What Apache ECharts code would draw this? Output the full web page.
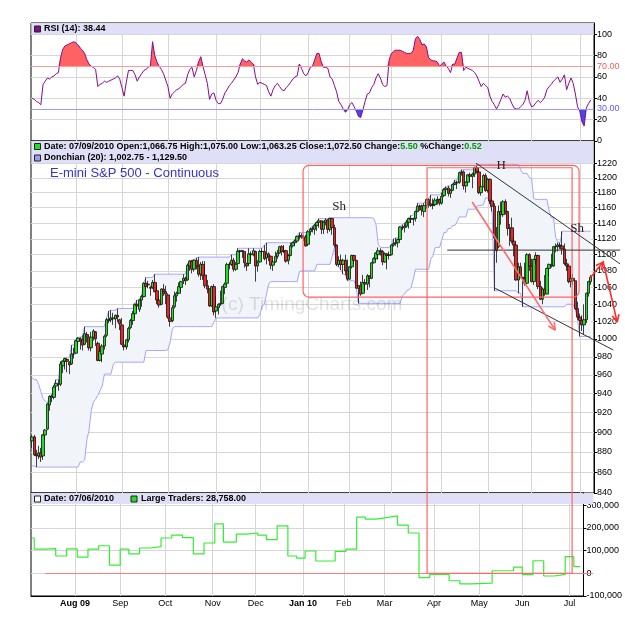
<!DOCTYPE html>
<html>
<head>
<meta charset="utf-8">
<script src="https://cdn.jsdelivr.net/npm/echarts@6/dist/echarts.min.js"></script>
<style>
  html, body { margin: 0; padding: 0; background: #fff; }
  #chart { width: 625px; height: 623px; }
</style>
</head>
<body>
<div id="chart"></div>
<script>
// exchange holidays inside the plotted window
const holidays = ['2009-09-07', '2009-11-26', '2009-12-25', '2010-01-01', '2010-01-18',
  '2010-02-15', '2010-04-02', '2010-05-31', '2010-07-05'];

const dates = [];
for (let t = Date.UTC(2009, 6, 6); t <= Date.UTC(2010, 6, 9); t += 86400000) {
  const d = new Date(t);
  const s = d.toISOString().slice(0, 10);
  if (d.getUTCDay() === 0 || d.getUTCDay() === 6 || holidays.includes(s)) continue;
  dates.push(s);
}
const categories = dates.concat(['']);

// open, high, low, close
const priceBars = [
  // Jul 2009
  [891,897,884,895],[895,897,876,877],[877,882,865,876],[876,886,873,879],[879,884,870,875],
  [876,898,872,897],[897,903,892,902],[903,930,902,929],[928,938,922,937],[937,939,931,936],
  [936,949,934,947],[948,955,938,951],[950,955,943,950],[950,975,948,972],[970,976,962,975],
  [975,979,966,978],[977,978,963,975],[974,975,961,971],[972,993,971,983],[983,990,978,983],
  // Aug
  [984,999,983,998],[997,1002,992,1001],[1000,1002,988,998],[999,1004,987,993],[994,1014,993,1006],
  [1005,1008,996,1003],[1002,1003,987,990],[990,1008,986,1002],[1002,1011,998,1009],[1008,1009,992,1000],
  [995,997,975,976],[976,990,975,986],[983,994,974,992],[992,1005,988,1003],[1004,1024,1002,1022],
  [1022,1032,1018,1021],[1022,1033,1019,1024],[1023,1030,1016,1024],[1023,1028,1012,1027],[1027,1035,1019,1025],
  [1022,1023,1010,1017],
  // Sep
  [1016,1024,993,994],[993,998,987,991],[991,1000,988,999],[999,1014,996,1012],[1013,1023,1011,1021],
  [1021,1032,1016,1029],[1029,1041,1024,1040],[1040,1045,1034,1038],[1034,1046,1031,1045],[1045,1051,1037,1049],
  [1049,1066,1048,1065],[1065,1072,1058,1061],[1063,1068,1059,1064],[1060,1062,1050,1059],[1060,1069,1058,1066],
  [1066,1076,1054,1055],[1056,1062,1040,1045],[1045,1050,1036,1039],[1040,1059,1039,1058],[1058,1064,1050,1055],
  [1055,1062,1040,1052],
  // Oct
  [1051,1053,1023,1025],[1024,1028,1014,1020],[1021,1039,1019,1036],[1037,1055,1035,1050],[1050,1055,1043,1053],
  [1053,1066,1052,1061],[1060,1068,1056,1067],[1068,1076,1064,1071],[1071,1073,1063,1068],[1069,1089,1068,1087],
  [1086,1093,1080,1092],[1092,1093,1077,1082],[1082,1094,1079,1093],[1093,1096,1082,1086],[1086,1097,1073,1076],
  [1076,1091,1069,1088],[1088,1092,1069,1074],[1075,1092,1059,1062],[1062,1069,1053,1058],[1058,1059,1037,1038],
  [1038,1062,1037,1061],[1061,1064,1027,1031],
  // Nov
  [1032,1049,1024,1037],[1036,1041,1028,1040],[1040,1056,1038,1041],[1041,1062,1040,1061],[1060,1066,1052,1064],
  [1065,1090,1064,1088],[1088,1091,1082,1088],[1088,1100,1086,1093],[1093,1096,1079,1082],[1082,1091,1080,1088],
  [1089,1108,1088,1104],[1104,1106,1096,1105],[1105,1106,1096,1104],[1104,1104,1084,1090],[1089,1090,1080,1086],
  [1089,1108,1088,1101],[1101,1104,1092,1100],[1100,1108,1098,1105],[1104,1105,1067,1086],[1086,1093,1079,1090],
  // Dec
  [1091,1106,1090,1104],[1104,1108,1099,1104],[1104,1112,1093,1095],[1096,1115,1088,1101],[1101,1103,1092,1098],
  [1098,1099,1082,1087],[1087,1093,1080,1091],[1091,1104,1090,1098],[1098,1106,1095,1102],[1102,1111,1101,1110],
  [1110,1112,1099,1104],[1104,1112,1102,1105],[1105,1106,1090,1092],[1093,1101,1088,1099],[1099,1115,1098,1111],
  [1111,1116,1109,1115],[1115,1119,1112,1117],[1117,1124,1116,1123],[1123,1128,1119,1124],[1124,1127,1120,1122],
  [1122,1125,1117,1122],[1122,1125,1110,1111],
  // Jan 2010
  [1113,1131,1112,1129],[1129,1134,1124,1132],[1132,1136,1128,1133],[1132,1139,1125,1137],[1137,1142,1130,1141],
  [1141,1146,1134,1143],[1143,1143,1126,1132],[1132,1143,1126,1141],[1141,1146,1137,1144],[1144,1145,1127,1132],
  [1132,1147,1129,1146],[1146,1146,1125,1134],[1134,1138,1109,1112],[1112,1113,1086,1088],[1088,1098,1085,1093],
  [1093,1100,1081,1088],[1088,1095,1076,1093],[1093,1100,1075,1080],[1080,1094,1068,1070],
  // Feb
  [1070,1086,1069,1085],[1085,1100,1083,1099],[1099,1100,1089,1093],[1093,1093,1059,1059],[1059,1063,1041,1062],
  [1062,1067,1050,1052],[1053,1075,1052,1066],[1066,1070,1056,1064],[1064,1076,1057,1074],[1074,1075,1060,1071],
  [1071,1091,1070,1090],[1090,1097,1089,1095],[1095,1103,1093,1102],[1100,1109,1094,1105],[1105,1108,1099,1104],
  [1104,1106,1087,1091],[1091,1103,1090,1101],[1101,1102,1082,1099],[1099,1104,1094,1100],
  // Mar
  [1100,1113,1099,1112],[1112,1120,1110,1114],[1114,1121,1111,1115],[1115,1120,1109,1119],[1119,1136,1118,1135],
  [1135,1138,1131,1134],[1134,1140,1128,1136],[1136,1144,1134,1141],[1141,1147,1133,1146],[1146,1150,1140,1145],
  [1145,1147,1137,1146],[1146,1156,1142,1155],[1155,1166,1154,1162],[1162,1164,1156,1162],[1162,1164,1150,1157],
  [1155,1166,1148,1163],[1163,1172,1159,1171],[1171,1172,1160,1165],[1165,1177,1161,1163],[1163,1172,1158,1164],
  [1164,1173,1162,1170],[1170,1175,1164,1171],[1171,1172,1163,1166],
  // Apr
  [1166,1180,1164,1175],[1176,1186,1174,1184],[1184,1188,1178,1186],[1186,1189,1175,1179],[1179,1185,1173,1183],
  [1183,1192,1182,1191],[1191,1197,1190,1193],[1193,1196,1185,1194],[1194,1208,1192,1207],[1207,1211,1203,1208],
  [1208,1210,1184,1189],[1189,1195,1180,1194],[1194,1205,1193,1204],[1204,1207,1195,1202],[1202,1207,1186,1205],
  [1205,1215,1201,1214],[1214,1218,1206,1208],[1208,1211,1178,1180],[1180,1190,1176,1188],[1188,1205,1187,1203],
  [1203,1206,1181,1183],
  // May
  [1183,1200,1180,1198],[1198,1199,1165,1169],[1169,1172,1155,1162],[1162,1166,1056,1121],[1121,1135,1090,1105],
  [1110,1163,1108,1155],[1155,1168,1138,1151],[1151,1170,1148,1168],[1168,1171,1151,1155],[1155,1156,1124,1133],
  [1133,1139,1111,1134],[1134,1147,1114,1117],[1117,1122,1098,1112],[1112,1112,1068,1069],[1069,1090,1053,1085],
  [1085,1090,1071,1072],[1072,1073,1037,1071],[1071,1090,1062,1065],[1065,1102,1064,1100],[1100,1102,1080,1086],
  // Jun
  [1086,1095,1066,1067],[1067,1095,1063,1094],[1094,1103,1088,1099],[1099,1100,1058,1061],[1061,1068,1045,1046],
  [1046,1060,1040,1058],[1058,1075,1050,1052],[1052,1084,1052,1083],[1083,1089,1074,1088],[1088,1101,1084,1086],
  [1086,1111,1085,1110],[1110,1114,1103,1110],[1110,1115,1104,1112],[1112,1115,1107,1111],[1111,1129.5,1100,1107],
  [1107,1114,1087,1089],[1089,1095,1080,1086],[1086,1089,1065,1067],[1067,1077,1060,1071],[1071,1076,1063,1068],
  [1068,1068,1033,1035],[1035,1043,1022,1025],
  // Jul 2010
  [1025,1029,1002.75,1021],[1021,1027,1009,1016],[1016,1040,1005,1022],[1022,1054,1018,1053],[1053,1068,1049,1067],
  [1066.75,1075,1063.25,1072.5]
];

const donchianUpper = [
  957,955,955,950,942,935,932,930,938,939, 949,955,955,975,976,979,979,979,993,993,
  999,1002,1002,1004,1014,1014,1014,1014,1014,1014, 1014,1014,1014,1014,1024,1032,1033,1033,1033,1035,
  1035,1035,1035,1035,1035,1035,1035,1041,1045,1046, 1051,1066,1072,1072,1072,1072,1076,1076,1076,1076,
  1076,1076,1076,1076,1076,1076,1076,1076,1076,1076, 1076,1089,1093,1093,1094,1096,1097,1097,1097,1097,
  1097,1097,1097,1097,1097,1097,1097,1097,1097,1097, 1097,1100,1100,1100,1108,1108,1108,1108,1108,1108,
  1108,1108,1108,1108,1108,1108,1112,1115,1115,1115, 1115,1115,1115,1115,1115,1115,1115,1115,1115,1116,
  1119,1124,1128,1128,1128,1128,1131,1134,1136,1139, 1142,1146,1146,1146,1146,1146,1147,1147,1147,1147,
  1147,1147,1147,1147,1147,1147,1147,1147,1147,1147, 1147,1147,1147,1147,1147,1147,1146,1138,1113,1109,
  1109,1109,1109,1109,1113,1120,1121,1121,1136,1138, 1140,1144,1147,1150,1150,1156,1166,1166,1166,1166,
  1172,1172,1177,1177,1177,1177,1177,1180,1186,1188, 1189,1189,1192,1197,1197,1208,1211,1211,1211,1211,
  1211,1211,1215,1218,1218,1218,1218,1218,1218,1218, 1218,1218,1218,1218,1218,1218,1218,1218,1218,1218,
  1218,1218,1218,1211,1206,1206,1206,1200,1199,1172, 1171,1171,1171,1171,1171,1171,1156,1147,1147,1122,
  1115,1115,1129.5,1129.5,1129.5,1129.5,1129.5,1129.5,1129.5,1129.5, 1129.5,1129.5,1129.5,1129.5,1129.5,1129.5
];

const donchianLower = [
  866,866,865,865,865,865,865,865,865,865, 865,865,865,865,865,865,865,865,865,865,
  865,865,870,870,872,892,902,922,931,934, 938,943,948,961,961,961,961,971,974,974,
  974,974,974,974,974,974,974,974,974,974, 974,974,987,987,987,987,987,987,987,987,
  987,987,988,996,1011,1014,1014,1014,1014,1014, 1014,1014,1014,1014,1014,1014,1014,1014,1014,1014,
  1014,1014,1014,1019,1024,1024,1024,1024,1024,1024, 1024,1024,1024,1024,1024,1024,1024,1024,1024,1024,
  1024,1024,1024,1024,1028,1038,1040,1052,1064,1067, 1067,1067,1067,1067,1067,1067,1067,1067,1067,1067,
  1067,1067,1079,1080,1080,1080,1080,1080,1080,1080, 1088,1088,1088,1088,1088,1088,1088,1098,1109,1086,
  1085,1081,1076,1075,1068,1068,1068,1068,1059,1041, 1041,1041,1041,1041,1041,1041,1041,1041,1041,1041,
  1041,1041,1041,1041,1041,1041,1041,1041,1041,1050, 1052,1056,1057,1060,1070,1082,1082,1082,1082,1082,
  1082,1082,1094,1099,1109,1109,1109,1118,1128,1128, 1133,1133,1137,1137,1142,1148,1148,1148,1148,1158,
  1158,1158,1158,1162,1163,1163,1164,1173,1173,1165, 1155,1056,1056,1056,1056,1056,1056,1056,1056,1056,
  1056,1056,1053,1053,1037,1037,1037,1037,1037,1037, 1037,1037,1037,1037,1037,1037,1037,1037,1037,1037,
  1037,1037,1037,1037,1040,1040,1040,1040,1033,1022, 1002.75,1002.75,1002.75,1002.75,1002.75,1002.75
];

const rsiValues = [
  40,39,37,36,34,53,56,59,58,60, 61,63,64,78,86,89,90,91,92,93,
  92,90,87,85,82,76,72,70,69,67, 51,53,54,56,55,56,57,58,59,61,
  58,50,42,55,66,66,66,62,56,60, 63,66,67,69,70,93,80,74,70,67,
  63,57,51,40,44,46,48,49,51,53, 54,62,67,69,60,66,74,79,70,62,
  54,39,44,45,38,35,35,39,45,48, 52,54,57,60,64,72,77,75,74,76,
  74,72,60,53,55,54,53,52,46,42, 48,52,54,51,48,47,50,52,55,58,
  60,61,72,68,63,61,64,69,70,76, 82,82,74,69,69,68,60,58,52,46,
  37,34,30,27,29,34,36,32,28,23, 22,29,37,44,45,50,53,59,63,59,
  53,51,52,76,82,84,85,85,85,84, 83,82,82,82,85,96,98,95,90,91,
  88,78,76,75,75,74,70,72,74,70, 68,64,72,72,78,83,83,66,69,68,
  67,66,64,61,56,51,54,52,50,42, 37,34,30,34,39,44,41,42,40,35,
  31,30,30,32,34,38,47,37,32,33, 36,38,36,38,41,48,51,53,56,58,
  60,55,58,62,48,54,59,54,44,32, 28,18,14,31,35,38.44
];

// weekly report: [bar index where the value starts, contracts]
const largeTraders = [
  [0,155000],[1,106000],[6,108000],[11,76000],[16,107000],[21,71000],[26,106000],[31,121000],
  [36,36000],[41,106000],[45,85000],[50,111000],[55,117000],[60,155000],[65,168000],[70,157000],
  [75,85000],[80,133000],[85,217000],[89,137000],[95,172000],[100,177000],[105,168000],[109,148000],
  [114,208000],[119,76000],[123,67000],[127,98000],[132,54000],[141,96000],[146,106000],[151,247000],
  [155,238000],[160,244000],[164,252000],[170,212000],[175,177000],[180,-19000],[185,-5000],[194,-33000],
  [199,-47000],[204,-43000],[214,11000],[224,27000],[228,-6000],[233,55000],[238,-12000],[243,-5000],
  [248,73000],[252,28758],[255,28758]
];

const priceTicks = [840,860,880,900,920,940,960,980,1000,1020,1040,1060,1080,1100,1120,1140,1160,1180,1200,1220];
const monthNames = ['Jan','Feb','Mar','Apr','May','Jun','Jul','Aug','Sep','Oct','Nov','Dec'];

const FONT = 'Liberation Sans, Arial, sans-serif';
const GRID_LINE = '#d6d6d6';

function monthStart(idx) {
  const v = categories[idx];
  return idx > 0 && v !== '' && v.slice(0, 7) !== categories[idx - 1].slice(0, 7);
}

const xAxes = [0, 1, 2].map(g => ({
  type: 'category',
  gridIndex: g,
  data: categories,
  boundaryGap: true,
  axisLine: { show: g === 2, onZero: false, lineStyle: { color: '#000' } },
  axisTick: { show: false },
  axisLabel: g === 2 ? {
    interval: monthStart,
    margin: 3,
    fontSize: 9,
    color: '#000',
    fontFamily: FONT,
    formatter: v => {
      if (!v) return '';
      const m = +v.slice(5, 7) - 1;
      if ((m === 7 && v.startsWith('2009')) || m === 0) return '{b|' + monthNames[m] + ' ' + v.slice(2, 4) + '}';
      return monthNames[m];
    },
    rich: { b: { fontWeight: 'bold', fontSize: 9, fontFamily: FONT, color: '#000' } }
  } : { show: false },
  splitLine: { show: true, interval: monthStart, alignWithLabel: true, lineStyle: { color: GRID_LINE, width: 1 } }
}));

const yLabel = { color: '#000', fontSize: 9, margin: 3, fontFamily: FONT };

const option = {
  animation: false,
  backgroundColor: '#fff',
  textStyle: { fontFamily: FONT },
  grid: [
    { left: 31, top: 23, width: 563, height: 118, show: true, borderColor: '#000', borderWidth: 1 },
    { left: 31, top: 141, width: 563, height: 352, show: true, borderColor: '#000', borderWidth: 1 },
    { left: 31, top: 493, width: 563, height: 103, show: true, borderColor: '#000', borderWidth: 1 }
  ],
  xAxis: xAxes,
  yAxis: [
    {
      type: 'value', gridIndex: 0, position: 'right', min: 0, max: 110.5, interval: 20,
      axisLine: { show: true, lineStyle: { color: '#000' } },
      axisTick: { show: true, length: 3, lineStyle: { color: '#000' } },
      axisLabel: Object.assign({ showMaxLabel: false }, yLabel),
      splitLine: { show: true, lineStyle: { color: GRID_LINE } }
    },
    {
      type: 'value', gridIndex: 1, position: 'right', min: Math.log(840), max: Math.log(1251),
      axisLine: { show: true, lineStyle: { color: '#000' } },
      axisTick: { show: true, length: 3, lineStyle: { color: '#000' }, customValues: priceTicks.map(Math.log) },
      axisLabel: Object.assign({
        customValues: priceTicks.map(Math.log),
        formatter: v => String(Math.round(Math.exp(v)))
      }, yLabel),
      splitLine: { show: true, lineStyle: { color: GRID_LINE } }
    },
    {
      type: 'value', gridIndex: 2, position: 'right', min: -100000, max: 353000, interval: 100000,
      axisLine: { show: true, lineStyle: { color: '#000' } },
      axisTick: { show: true, length: 3, lineStyle: { color: '#000' } },
      axisLabel: Object.assign({ showMaxLabel: false, formatter: v => v.toLocaleString('en-US') }, yLabel),
      splitLine: { show: true, lineStyle: { color: GRID_LINE } }
    }
  ],
  series: [
    {
      name: 'rsiHigh', type: 'line', xAxisIndex: 0, yAxisIndex: 0, silent: true, symbol: 'none',
      data: rsiValues.map(v => Math.max(v, 70)),
      lineStyle: { width: 0 },
      areaStyle: { color: '#ff6262', opacity: 1, origin: 70 }
    },
    {
      name: 'rsiLow', type: 'line', xAxisIndex: 0, yAxisIndex: 0, silent: true, symbol: 'none',
      data: rsiValues.map(v => Math.min(v, 30)),
      lineStyle: { width: 0 },
      areaStyle: { color: '#4646f0', opacity: 1, origin: 30 }
    },
    {
      name: 'RSI (14)', type: 'line', xAxisIndex: 0, yAxisIndex: 0, silent: true, symbol: 'none', z: 3,
      data: rsiValues,
      lineStyle: { color: '#8a0a8a', width: 1 },
      markLine: {
        silent: true, symbol: 'none',
        lineStyle: { type: 'solid', width: 1 },
        label: { position: 'end', distance: 3, fontSize: 9, fontFamily: FONT },
        data: [
          { yAxis: 70, lineStyle: { color: '#ff9a9a' }, label: { formatter: '70.00', color: '#ff5a5a' } },
          { yAxis: 30, lineStyle: { color: '#9a9aff' }, label: { formatter: '30.00', color: '#5a5aff' } }
        ]
      }
    },
    {
      name: 'donLow', type: 'line', xAxisIndex: 1, yAxisIndex: 1, silent: true, symbol: 'none',
      stack: 'don', data: donchianLower.map(Math.log),
      lineStyle: { color: '#a4a4ff', width: 1 }
    },
    {
      name: 'donHigh', type: 'line', xAxisIndex: 1, yAxisIndex: 1, silent: true, symbol: 'none',
      stack: 'don', data: donchianUpper.map((u, i) => Math.log(u) - Math.log(donchianLower[i])),
      lineStyle: { color: '#a4a4ff', width: 1 },
      areaStyle: { color: '#f1f4f9', opacity: 1 }
    },
    {
      name: 'E-mini', type: 'candlestick', xAxisIndex: 1, yAxisIndex: 1, silent: true, z: 5,
      barWidth: 3,
      data: priceBars.map(b => [Math.log(b[0]), Math.log(b[3]), Math.log(b[2]), Math.log(b[1])]),
      itemStyle: { color: '#22dd22', color0: '#ee2222', borderColor: '#111', borderColor0: '#111', borderColorDoji: '#111', borderWidth: 0.8 }
    },
    {
      name: 'Large Traders', type: 'line', xAxisIndex: 2, yAxisIndex: 2, silent: true, symbol: 'none', z: 4,
      step: 'end', data: largeTraders,
      lineStyle: { color: '#33ee33', width: 1.2 }
    }
  ]
};

const chart = echarts.init(document.getElementById('chart'), null, { renderer: 'canvas' });
chart.setOption(option);

// ---- hand-drawn annotations, placed through the chart scales ----
const xa = chart.convertToPixel({ gridIndex: 1 }, [0, Math.log(1000)])[0];
const xb = chart.convertToPixel({ gridIndex: 1 }, [100, Math.log(1000)])[0];
const xOf = i => xa + (xb - xa) * i / 100;
const yOf = p => chart.convertToPixel({ gridIndex: 1 }, [0, Math.log(p)])[1];
const yOfB = v => chart.convertToPixel({ gridIndex: 2 }, [0, v])[1];
const pt = (i, p) => [xOf(i), yOf(p)];

const trendLines = [
  [[202.7, 1220], [268.4, 1088.6]],
  [[211.4, 1059], [265.3, 987.5]],
  [[189.5, 1105.7], [268.4, 1105.7]]
];
const pinkArrow = [[200.9, 1167.6], [238.8, 1010]];
const redArrow = [[254.7, 1071.3], [260.7, 1090.8], [267.1, 1019.2]];
const notes = [['H', 214.1, 1217], ['Sh', 140.2, 1161], ['Sh', 248.8, 1132.4]];

function head(a, b, color, w) {
  const ang = Math.atan2(b[1] - a[1], b[0] - a[0]);
  return [ang + Math.PI - 0.45, ang + Math.PI + 0.45].map(t => ({
    type: 'line', z: 100, silent: true,
    shape: { x1: b[0], y1: b[1], x2: b[0] + 8 * Math.cos(t), y2: b[1] + 8 * Math.sin(t) },
    style: { stroke: color, lineWidth: w }
  }));
}

const g = [];
// header bands
[[23, 11], [141, 22], [493, 11]].forEach(([y, h]) => g.push({
  type: 'rect', z: 1, silent: true,
  shape: { x: 31.5, y: y + 0.5, width: 562, height: h - 0.5 },
  style: { fill: '#dfdff7' }
}));

// zero reference line of the bottom panel
const z0 = Math.round(yOfB(0)) + 0.5;
g.push({ type: 'line', z: 2, silent: true,
  shape: { x1: xOf(6), y1: z0, x2: xOf(256), y2: z0 },
  style: { stroke: '#ff7a7a', lineWidth: 1 } });

function swatch(x, y, fill) {
  return { type: 'rect', z: 10, silent: true, shape: { x: x, y: y - 3, width: 6, height: 6 },
    style: { fill: fill, stroke: '#222', lineWidth: 1 } };
}
function label(x, y, text, rich) {
  return { type: 'text', z: 10, silent: true,
    style: { x: x, y: y, text: text, font: 'bold 9px ' + FONT, fill: '#000', align: 'left', verticalAlign: 'middle', rich: rich } };
}
const rich = {
  t: { font: 'bold 9px ' + FONT, fill: '#000', color: '#000' },
  g: { font: 'bold 9px ' + FONT, fill: '#009a00', color: '#009a00' }
};
g.push(swatch(34.5, 29, '#8a0a8a'), label(44, 29, 'RSI (14): 38.44'));
g.push(swatch(34.5, 146.5, '#22dd22'),
  label(44, 146.5, '{t|Date: 07/09/2010 Open:1,066.75 High:1,075.00 Low:1,063.25 Close:1,072.50 Change:}{g|5.50}{t| %Change:}{g|0.52}', rich));
g.push(swatch(34.5, 158, '#9c9cf0'), label(44, 158, 'Donchian (20): 1,002.75 - 1,129.50'));
g.push(swatch(34.5, 499, '#ffffff'), label(44, 499, 'Date: 07/06/2010'));
g.push(swatch(131, 499, '#22dd22'), label(141, 499, 'Large Traders: 28,758.00'));
g.push({ type: 'text', z: 10, silent: true,
  style: { x: 50, y: 173, text: 'E-mini S&P 500 - Continuous', font: '13px ' + FONT, fill: '#3535c8', align: 'left', verticalAlign: 'middle' } });
g.push({ type: 'text', z: 6, silent: true,
  style: { x: 312, y: 305, text: '(c) TimingCharts.com', font: '19px ' + FONT, fill: 'rgba(0,0,0,0.12)', align: 'center', verticalAlign: 'middle' } });

// rounded box and tall box
const b1a = pt(123.7, 1217), b1b = pt(249.7, 1048.5);
g.push({ type: 'rect', z: 100, silent: true,
  shape: { x: b1a[0], y: b1a[1], width: b1b[0] - b1a[0], height: b1b[1] - b1a[1], r: 6 },
  style: { fill: 'none', stroke: '#ff6464', lineWidth: 1.2 } });
const b2a = pt(180.3, 1213.7), b2x = xOf(246.5), b2y = yOfB(0);
g.push({ type: 'rect', z: 100, silent: true,
  shape: { x: b2a[0], y: b2a[1], width: b2x - b2a[0], height: b2y - b2a[1] },
  style: { fill: 'none', stroke: '#ff6464', lineWidth: 1.2 } });

trendLines.forEach(([a, b]) => {
  const p = pt(a[0], a[1]), q = pt(b[0], b[1]);
  g.push({ type: 'line', z: 100, silent: true, shape: { x1: p[0], y1: p[1], x2: q[0], y2: q[1] },
    style: { stroke: '#333', lineWidth: 1 } });
});

const pk = pinkArrow.map(v => pt(v[0], v[1]));
g.push({ type: 'polyline', z: 100, silent: true, shape: { points: pk }, style: { stroke: '#ff6a6a', lineWidth: 1.6, fill: null } });
g.push(...head(pk[0], pk[1], '#ff6a6a', 1.6));
const rd = redArrow.map(v => pt(v[0], v[1]));
g.push({ type: 'polyline', z: 100, silent: true, shape: { points: rd }, style: { stroke: '#ff2a2a', lineWidth: 1.6, fill: null } });
g.push(...head(rd[0], rd[1], '#ff2a2a', 1.6), ...head(rd[1], rd[2], '#ff2a2a', 1.6));

notes.forEach(([t, i, p]) => {
  const q = pt(i, p);
  g.push({ type: 'text', z: 100, silent: true,
    style: { x: q[0], y: q[1], text: t, font: '13px Liberation Serif, DejaVu Serif, serif', fill: '#222', align: 'center', verticalAlign: 'middle' } });
});

chart.setOption({ graphic: { elements: g } });
</script>
</body>
</html>
